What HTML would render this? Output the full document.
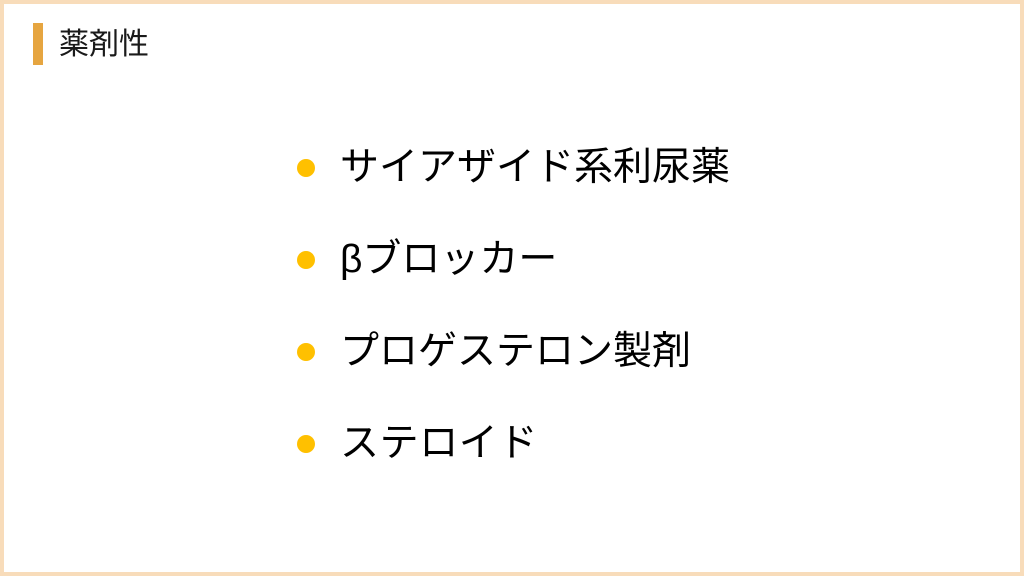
<!DOCTYPE html>
<html lang="ja">
<head>
<meta charset="utf-8">
<style>
html,body{margin:0;padding:0;background:#fff;}
#s{position:relative;width:1024px;height:576px;overflow:hidden;background:#fff;font-family:"Liberation Sans","Noto Sans CJK JP",sans-serif;color:#000;}
#f{position:absolute;left:0;top:0;width:1024px;height:576px;box-sizing:border-box;border:4px solid #f8dcba;}
#b{position:absolute;left:33px;top:23px;width:10px;height:42px;background:#e6a540;}
#t{position:absolute;left:59px;top:25px;font-size:30px;line-height:40px;white-space:nowrap;color:#1a1a1a;}
.d{position:absolute;left:296.5px;width:18px;height:18px;border-radius:50%;background:#ffc000;}
.l{position:absolute;left:340px;font-size:39px;line-height:50px;white-space:nowrap;}
</style>
</head>
<body>
<div id="s">
<div id="f"></div>
<div id="b"></div>
<div id="t">薬剤性</div>
<div class="d" style="top:159.3px"></div>
<div class="l" style="top:143px">サイアザイド系利尿薬</div>
<div class="d" style="top:251px"></div>
<div class="l" style="top:235px">βブロッカー</div>
<div class="d" style="top:343px"></div>
<div class="l" style="top:327px">プロゲステロン製剤</div>
<div class="d" style="top:435.3px"></div>
<div class="l" style="top:419px;letter-spacing:.6px">ステロイド</div>
</div>
</body>
</html>
